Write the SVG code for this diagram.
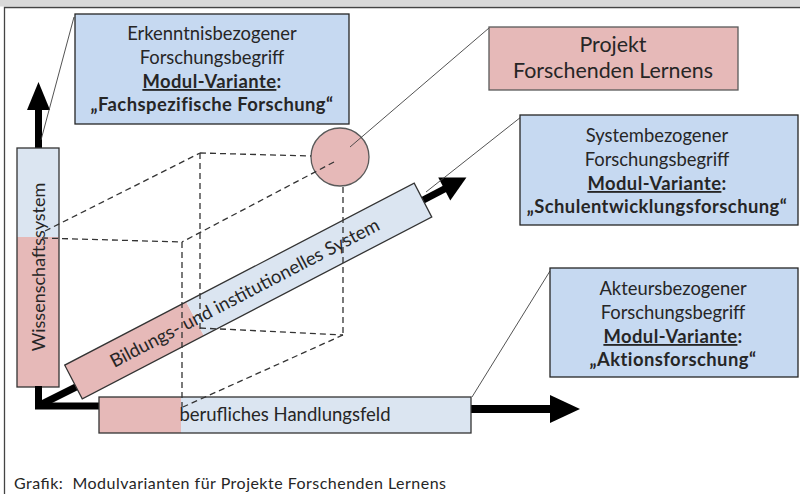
<svg xmlns="http://www.w3.org/2000/svg" width="800" height="494" viewBox="0 0 800 494">
<style>
.t{font-family:Lato,"Open Sans","Liberation Sans",sans-serif;fill:#262626;text-anchor:middle}
.bx{font-size:18.4px}
.b{font-weight:bold;letter-spacing:0.45px}
.u{text-decoration:underline}
.box{fill:#c6d9f1;stroke:#262626;stroke-width:1.3}
.bar{stroke:#333;stroke-width:1.3}
.blue{fill:#dbe5f1}
.pink{fill:#e6b9b8}
.d{fill:none;stroke:#333;stroke-width:1.3;stroke-dasharray:6 4}
.c{fill:none;stroke:#404040;stroke-width:0.9}
.k{fill:none;stroke:#000;stroke-width:7}
</style>
<rect x="0" y="0" width="800" height="494" fill="#fff"/>
<rect x="0" y="0" width="800" height="6.5" fill="#d9d9d9"/>
<path d="M4.5,494 V7.5 H800" fill="none" stroke="#444" stroke-width="1.3"/>

<g id="axis-vertical">
  <rect x="35" y="106" width="7" height="43" fill="#000"/>
  <polygon points="27,110 38.5,82 50,110" fill="#000"/>
  <rect class="blue" x="17" y="148" width="42" height="89"/>
  <rect class="pink" x="17" y="237" width="42" height="150"/>
  <rect class="bar" x="17" y="148" width="42" height="239" fill="none"/>
  <text class="t" font-size="18" transform="translate(45,267) rotate(-90)">Wissenschaftssystem</text>
</g>

<g id="axis-base">
  <path class="k" d="M38.5,386 V406 H100"/>
  <line class="k" x1="40" y1="405" x2="80" y2="385"/>
</g>

<g id="axis-horizontal">
  <rect x="470" y="405" width="82" height="8" fill="#000"/>
  <polygon points="550,395 580,409 550,423" fill="#000"/>
  <rect class="pink" x="99" y="397" width="82" height="36"/>
  <rect class="blue" x="181" y="397" width="290" height="36"/>
  <rect class="bar" x="99" y="397" width="372" height="36" fill="none"/>
  <text class="t" font-size="18.5" x="285" y="421">berufliches Handlungsfeld</text>
</g>

<g id="axis-diagonal" transform="translate(73.5,382) rotate(-27.5)">
  <rect x="393" y="-3.5" width="27" height="7" fill="#000"/>
  <polygon points="418,-13 443,0 418,13" fill="#000"/>
  <rect class="pink" x="0" y="-19" width="137" height="38"/>
  <rect class="blue" x="137" y="-19" width="257" height="38"/>
  <rect class="bar" x="0" y="-19" width="394" height="38" fill="none"/>
  <text class="t" font-size="18.6" x="193" y="6.5">Bildungs- und institutionelles System</text>
</g>

<g id="projekt-circle">
  <circle cx="340" cy="157" r="29" fill="#e6b9b8" stroke="#595959" stroke-width="1.3"/>
</g>

<g id="cube">
  <line class="d" x1="45" y1="231" x2="200" y2="153"/>
  <line class="d" x1="200" y1="153" x2="311" y2="156"/>
  <line class="d" x1="200" y1="153" x2="200" y2="330"/>
  <line class="d" x1="200" y1="328" x2="343" y2="335"/>
  <line class="d" x1="343" y1="187" x2="343" y2="335"/>
  <line class="d" x1="343" y1="335" x2="183" y2="407"/>
  <line class="d" x1="42" y1="238" x2="182" y2="242"/>
  <line class="d" x1="182" y1="242" x2="182" y2="407"/>
  <line class="d" x1="334" y1="162" x2="182" y2="242"/>
</g>

<g id="connectors">
  <line class="c" x1="74" y1="17" x2="41" y2="140"/>
  <line class="c" x1="489" y1="28" x2="350" y2="147"/>
  <line class="c" x1="521" y1="117" x2="426" y2="192"/>
  <line class="c" x1="550" y1="271" x2="472" y2="397"/>
</g>

<g id="box-erkenntnis">
  <rect class="box" x="75" y="14" width="274" height="110"/>
  <text class="t bx" x="212" y="40">Erkenntnisbezogener</text>
  <text class="t bx" x="212" y="64">Forschungsbegriff</text>
  <text class="t bx b" x="212" y="88"><tspan class="u">Modul-Variante</tspan>:</text>
  <text class="t bx b" x="212" y="111">„Fachspezifische Forschung“</text>
</g>

<g id="box-projekt">
  <rect x="489" y="27" width="249" height="63" fill="#e6b9b8" stroke="#595959" stroke-width="1.3"/>
  <text class="t" font-size="21.4" x="613" y="52">Projekt</text>
  <text class="t" font-size="21.4" x="613" y="78">Forschenden Lernens</text>
</g>

<g id="box-system">
  <rect class="box" x="520" y="115" width="278" height="110"/>
  <text class="t bx" x="657" y="142">Systembezogener</text>
  <text class="t bx" x="657" y="166">Forschungsbegriff</text>
  <text class="t bx b" x="657" y="190"><tspan class="u">Modul-Variante</tspan>:</text>
  <text class="t bx b" x="657" y="213">„Schulentwicklungsforschung“</text>
</g>

<g id="box-akteur">
  <rect class="box" x="550" y="268" width="248" height="109"/>
  <text class="t bx" x="673" y="295">Akteursbezogener</text>
  <text class="t bx" x="673" y="319">Forschungsbegriff</text>
  <text class="t bx b" x="673" y="343"><tspan class="u">Modul-Variante</tspan>:</text>
  <text class="t bx b" x="673" y="366">„Aktionsforschung“</text>
</g>

<text class="t" font-size="16" x="14" y="489" xml:space="preserve" textLength="432" lengthAdjust="spacing" style="text-anchor:start">Grafik:  Modulvarianten für Projekte Forschenden Lernens</text>
</svg>
